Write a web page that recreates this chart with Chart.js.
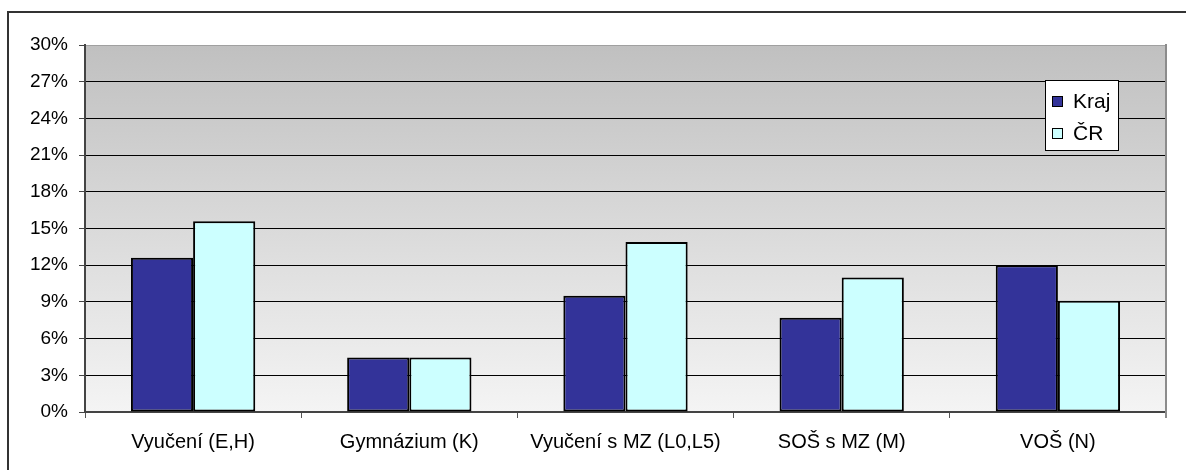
<!DOCTYPE html>
<html>
<head>
<meta charset="utf-8">
<script src="https://cdn.jsdelivr.net/npm/chart.js@4/dist/chart.umd.min.js"></script>
<style>
    html, body { margin: 0; padding: 0; background: #fff; overflow: hidden; }
    #frame {
        position: absolute; left: 7px; top: 11px; width: 1300px; height: 600px;
        border: 2px solid #333;
    }
    #wrap { position: absolute; left: 0; top: 0; width: 1186px; height: 470px; }
</style>
</head>
<body>
<div id="frame"></div>
<div id="wrap"><canvas id="chart"></canvas></div>
<script>
const labels = [
    'Vyučení (E,H)',
    'Gymnázium (K)',
    'Vyučení s MZ (L0,L5)',
    'SOŠ s MZ (M)',
    'VOŠ (N)',
];

const kraj = [12.6, 4.45, 9.5, 7.7, 12.0];
const cr = [15.6, 4.45, 13.9, 11.0, 9.1];

const yMin = 0;
const yMax = 30;
const yStep = 3;

const fontFamily = '"Liberation Sans", Arial, sans-serif';

// gradient plot background + right edge of plot
const plotBackground = {
    id: 'plotBackground',
    beforeDraw(chart) {
        const { ctx, chartArea: a } = chart;
        const g = ctx.createLinearGradient(0, a.top, 0, a.bottom);
        g.addColorStop(0, '#c0c0c0');
        g.addColorStop(1, '#f4f4f4');
        ctx.save();
        ctx.fillStyle = g;
        ctx.fillRect(a.left, a.top, a.right - a.left, a.bottom - a.top);
        ctx.restore();
    },
    afterDraw(chart) {
        const { ctx, chartArea: a } = chart;
        ctx.save();
        ctx.strokeStyle = '#8c8c8c';
        ctx.lineWidth = 2;
        ctx.beginPath();
        ctx.moveTo(a.right, a.top - 1);
        ctx.lineTo(a.right, a.bottom + 6);
        ctx.stroke();
        ctx.restore();
    }
};

// legend box inside the plot, top right
const boxLegend = {
    id: 'boxLegend',
    afterDraw(chart) {
        const ctx = chart.ctx;
        const x = 1045, y = 80, w = 73, h = 70;
        ctx.save();
        ctx.fillStyle = '#fff';
        ctx.fillRect(x, y, w, h);
        ctx.strokeStyle = '#000';
        ctx.lineWidth = 1;
        ctx.strokeRect(x + 0.5, y + 0.5, w, h);
        ctx.font = '21px ' + fontFamily;
        ctx.textBaseline = 'middle';
        chart.data.datasets.forEach((ds, i) => {
            const cy = 101 + i * 32;
            ctx.fillStyle = ds.backgroundColor;
            ctx.fillRect(1052, cy - 5, 11, 11);
            ctx.strokeStyle = '#000';
            ctx.strokeRect(1052.5, cy - 4.5, 10, 10);
            ctx.fillStyle = '#000';
            ctx.fillText(ds.label, 1073, cy + 1);
        });
        ctx.restore();
    }
};

const data = {
    labels: labels,
    datasets: [
        {
            label: 'Kraj',
            backgroundColor: '#333399',
            borderColor: '#000',
            borderWidth: 2,
            borderSkipped: false,
            data: kraj,
        },
        {
            label: 'ČR',
            backgroundColor: '#ccffff',
            borderColor: '#000',
            borderWidth: 2,
            borderSkipped: false,
            data: cr,
        }
    ]
};

const options = {
    responsive: true,
    maintainAspectRatio: false,
    animation: false,
    layout: {
        padding: { left: 0, top: 45, right: 20, bottom: 0 }
    },
    datasets: {
        bar: {
            categoryPercentage: 0.575,
            barPercentage: 1.0,
        }
    },
    scales: {
        x: {
            afterFit(scale) { scale.height = 58; },
            grid: {
                display: true,
                drawOnChartArea: false,
                tickLength: 6,
                tickColor: '#555',
            },
            border: { color: '#444', width: 2 },
            ticks: {
                color: '#000',
                padding: 12,
                maxRotation: 0,
                font: { family: fontFamily, size: 20 },
            }
        },
        y: {
            min: yMin,
            max: yMax,
            afterFit(scale) { scale.width = 85; },
            grid: {
                color: (c) => (c.tick && c.tick.value === yMax ? '#a0a0a0' : '#000'),
                lineWidth: 1,
                tickLength: 6,
                tickColor: '#444',
            },
            border: { color: '#444', width: 2 },
            ticks: {
                stepSize: yStep,
                color: '#000',
                padding: 11,
                font: { family: fontFamily, size: 19 },
                callback: (v) => v + '%',
            }
        }
    },
    plugins: {
        legend: { display: false },
        tooltip: { enabled: false },
    }
};

const chart = new Chart(
    document.getElementById('chart'),
    {
        type: 'bar',
        data: data,
        options: options,
        plugins: [plotBackground, boxLegend],
    }
);
</script>
</body>
</html>
